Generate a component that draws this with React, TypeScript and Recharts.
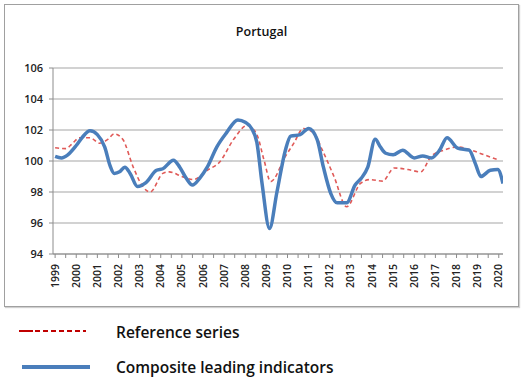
import { LineChart, Line, XAxis, YAxis, CartesianGrid } from 'recharts'

// Portugal: composite leading indicator vs reference series
const cliYears = [
  1999.0, 1999.3, 1999.6, 2000.0, 2000.3, 2000.65, 2001.0, 2001.35, 2001.6, 2001.8,
  2002.05, 2002.3, 2002.55, 2002.9, 2003.3, 2003.8, 2004.1, 2004.6, 2004.9, 2005.2,
  2005.5, 2005.85, 2006.2, 2006.65, 2007.1, 2007.65, 2008.0, 2008.3, 2008.55, 2008.8,
  2009.15, 2009.5, 2009.9, 2010.15, 2010.6, 2011.0, 2011.4, 2011.7, 2012.05, 2012.35,
  2012.8, 2013.2, 2013.5, 2013.8, 2014.15, 2014.4, 2014.65, 2015.0, 2015.45, 2016.0,
  2016.4, 2016.8, 2017.2, 2017.55, 2018.05, 2018.6, 2018.9, 2019.15, 2019.6, 2019.95,
  2020.2,
]
const cliValues = [
  100.3, 100.2, 100.4, 101.0, 101.55, 101.95, 101.7, 100.9, 99.7, 99.2,
  99.3, 99.6, 99.2, 98.35, 98.6, 99.4, 99.5, 100.05, 99.6, 98.9,
  98.45, 98.9, 99.6, 100.9, 101.8, 102.65, 102.5, 102.1, 101.2, 98.5,
  95.65, 98.0, 100.7, 101.6, 101.7, 102.1, 101.4, 99.6, 97.9, 97.3,
  97.3, 98.45, 98.9, 99.6, 101.4, 100.9, 100.5, 100.4, 100.7, 100.2,
  100.33, 100.2, 100.7, 101.5, 100.83, 100.7, 99.8, 99.0, 99.4, 99.45,
  98.55,
]

const refYears = [
  1999.0, 1999.5, 1999.8, 2000.15, 2000.65, 2001.1, 2001.5, 2001.8, 2002.2, 2002.7,
  2003.15, 2003.5, 2004.1, 2004.4, 2005.0, 2005.55, 2006.2, 2006.8, 2007.45, 2008.1,
  2008.55, 2008.9, 2009.2, 2009.9, 2010.3, 2010.75, 2011.25, 2011.65, 2012.2, 2012.8,
  2013.45, 2013.9, 2014.5, 2015.05, 2015.7, 2016.3, 2016.8, 2017.4, 2018.05, 2018.7,
  2019.3, 2020.0,
]
const refValues = [
  100.85, 100.8, 101.1, 101.5, 101.5, 101.15, 101.4, 101.75, 101.4, 99.6,
  98.35, 98.0, 99.2, 99.3, 99.0, 98.8, 99.4, 99.95, 101.4, 102.3,
  101.7, 100.0, 98.67, 100.3, 101.15, 102.1, 101.8, 100.7, 99.0, 97.05,
  98.55, 98.8, 98.7, 99.55, 99.45, 99.3, 100.3, 100.7, 100.9, 100.7,
  100.4, 100.07,
]

const yearTicks = [
  1999, 2000, 2001, 2002, 2003, 2004, 2005, 2006, 2007, 2008, 2009,
  2010, 2011, 2012, 2013, 2014, 2015, 2016, 2017, 2018, 2019, 2020,
]
const valueTicks = [94, 96, 98, 100, 102, 104, 106]

const cliData = cliYears.map((t, i) => ({ t, v: cliValues[i] }))
const refData = refYears.map((t, i) => ({ t, v: refValues[i] }))
const allTicks = yearTicks.flatMap((y) => [y, y + 0.5]).filter((t) => t <= 2020.2)

const FONT = '"Open Sans", "Noto Sans", sans-serif'

function YearTick(props: any) {
  const { x, y, payload } = props
  if (!Number.isInteger(payload.value)) return null
  return (
    <text
      x={0}
      y={0}
      transform={`translate(${x + 3.5},${y + 4}) rotate(-90)`}
      textAnchor="end"
      fontSize={10.5}
      fontWeight={600}
      fontFamily={FONT}
      fill="#222"
    >
      {payload.value}
    </text>
  )
}

export default function App() {
  return (
    <div style={{ position: 'absolute', left: 0, top: 0, width: 529, height: 385, background: '#fff' }}>
      <div
        style={{
          position: 'absolute',
          left: 4,
          top: 4,
          width: 513,
          height: 301,
          border: '1.5px solid #a0a0a0',
          boxShadow: '1px 1px 1px #d0d0d0',
        }}
      >
        <div
          style={{
            position: 'absolute',
            left: 0,
            width: 513,
            top: 18,
            textAlign: 'center',
            fontFamily: FONT,
            fontSize: 12.5,
            fontWeight: 600,
            color: '#111',
          }}
        >
          Portugal
        </div>
        <LineChart
          width={513}
          height={301}
          margin={{ top: 63, right: 15, bottom: 0, left: 0 }}
        >
          <CartesianGrid vertical={false} stroke="#a6a6a6" strokeWidth={1.2} />
          <XAxis
            type="number"
            dataKey="t"
            domain={[1998.9, 2020.2]}
            ticks={allTicks}
            interval={0}
            allowDataOverflow
            height={52}
            tick={<YearTick />}
            tickSize={4}
            stroke="#8c8c8c"
          />
          <YAxis
            type="number"
            domain={[94, 106]}
            ticks={valueTicks}
            interval={0}
            width={48}
            tickSize={4}
            tickMargin={6}
            stroke="#8c8c8c"
            tick={{ fontSize: 11, fill: '#222', fontFamily: FONT, fontWeight: 600 }}
          />
          <Line
            data={refData}
            dataKey="v"
            type="monotone"
            stroke="#e05a58"
            strokeWidth={1.6}
            strokeDasharray="4 3"
            dot={false}
            isAnimationActive={false}
          />
          <Line
            data={cliData}
            dataKey="v"
            type="monotone"
            stroke="#4a7ebb"
            strokeWidth={3.5}
            dot={false}
            isAnimationActive={false}
          />
        </LineChart>
      </div>
      <svg style={{ position: 'absolute', left: 0, top: 315 }} width={529} height={70}>
        <line x1={19} x2={33} y1={16} y2={16} stroke="#c00000" strokeWidth={2} />
        <line x1={35} x2={86} y1={16} y2={16} stroke="#c00000" strokeWidth={2} strokeDasharray="5 3" />
        <line x1={22} x2={90} y1={52} y2={52} stroke="#4a7ebb" strokeWidth={4} />
        <text x={116} y={23} fontFamily={FONT} fontSize={15.5} fontWeight={600} fill="#111">
          Reference series
        </text>
        <text x={116} y={58} fontFamily={FONT} fontSize={15.5} fontWeight={600} fill="#111">
          Composite leading indicators
        </text>
      </svg>
    </div>
  )
}
